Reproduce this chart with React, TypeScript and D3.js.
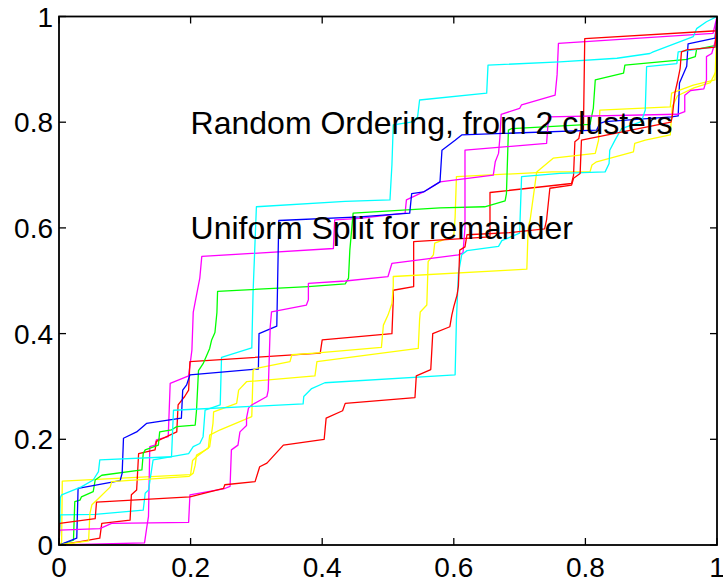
import React from 'react';
import * as d3 from 'd3';

type Pt = [number, number];

// axis ticks
const tickValues = [0, 0.2, 0.4, 0.6, 0.8, 1];
const tickLabels = ['0', '0.2', '0.4', '0.6', '0.8', '1'];

// annotations (x, y in data units)
const noteText = ['Random Ordering, from 2 clusters', 'Uniform Split for remainder'];
const noteX = [0.2, 0.2];
const noteY = [0.8, 0.6];

// curves
const yellowA: Pt[] = [[0,0],[0.004,0.005],[0.005,0.121],[0.2,0.133],[0.203,0.16],[0.209,0.167],[0.229,0.186],[0.234,0.23],[0.235,0.252],[0.27,0.268],[0.273,0.293],[0.285,0.309],[0.389,0.32],[0.392,0.347],[0.546,0.372],[0.548,0.426],[0.549,0.441],[0.559,0.454],[0.561,0.536],[0.569,0.549],[0.571,0.571],[0.6,0.585],[0.602,0.62],[0.604,0.697],[0.749,0.706],[0.807,0.706],[0.81,0.719],[0.817,0.725],[0.873,0.744],[0.875,0.76],[0.891,0.766],[0.929,0.776],[0.932,0.83],[0.94,0.85],[0.965,0.865],[0.99,0.875],[1,0.9],[1,1]];
const magentaUp: Pt[] = [[0,0],[0.13,0.004],[0.133,0.03],[0.136,0.054],[0.137,0.12],[0.138,0.186],[0.146,0.189],[0.148,0.199],[0.166,0.205],[0.169,0.306],[0.197,0.32],[0.202,0.369],[0.204,0.44],[0.207,0.46],[0.212,0.492],[0.214,0.505],[0.217,0.546],[0.417,0.561],[0.419,0.615],[0.457,0.618],[0.526,0.628],[0.528,0.653],[0.554,0.668],[0.579,0.687],[0.66,0.7],[0.663,0.725],[0.668,0.741],[0.67,0.77],[0.672,0.815],[0.7,0.826],[0.703,0.833],[0.754,0.851],[0.757,0.89],[0.759,0.949],[0.994,0.968],[1,1]];
const cyanUp: Pt[] = [[0,0],[0.002,0.057],[0.055,0.058],[0.128,0.066],[0.131,0.098],[0.136,0.104],[0.143,0.161],[0.197,0.173],[0.204,0.186],[0.214,0.192],[0.219,0.205],[0.222,0.255],[0.245,0.265],[0.247,0.355],[0.293,0.373],[0.295,0.48],[0.3,0.64],[0.435,0.65],[0.503,0.653],[0.506,0.72],[0.508,0.795],[0.535,0.8],[0.545,0.81],[0.548,0.842],[0.65,0.855],[0.652,0.908],[0.761,0.914],[0.848,0.921],[0.898,0.93],[0.903,0.933],[0.964,0.962],[0.969,0.977],[0.984,0.99],[1,1]];
const redUp: Pt[] = [[0,0],[0.03,0.006],[0.062,0.013],[0.065,0.041],[0.108,0.047],[0.11,0.095],[0.118,0.104],[0.121,0.173],[0.146,0.18],[0.148,0.196],[0.179,0.214],[0.181,0.265],[0.191,0.281],[0.197,0.293],[0.199,0.347],[0.397,0.363],[0.4,0.388],[0.506,0.4],[0.508,0.464],[0.508,0.482],[0.539,0.489],[0.539,0.574],[0.655,0.583],[0.655,0.667],[0.779,0.684],[0.782,0.7],[0.784,0.763],[0.79,0.769],[0.792,0.782],[0.797,0.785],[0.799,0.958],[1,0.973],[1,1]];
const green: Pt[] = [[0,0],[0.022,0.009],[0.024,0.082],[0.032,0.085],[0.034,0.091],[0.052,0.101],[0.055,0.123],[0.065,0.132],[0.126,0.142],[0.128,0.173],[0.131,0.18],[0.151,0.189],[0.153,0.214],[0.171,0.218],[0.179,0.224],[0.207,0.227],[0.209,0.255],[0.212,0.33],[0.219,0.343],[0.229,0.372],[0.232,0.388],[0.237,0.402],[0.24,0.44],[0.241,0.48],[0.379,0.489],[0.435,0.494],[0.44,0.505],[0.442,0.558],[0.447,0.628],[0.579,0.638],[0.647,0.64],[0.678,0.651],[0.68,0.665],[0.683,0.785],[0.688,0.788],[0.807,0.796],[0.812,0.826],[0.815,0.88],[0.858,0.893],[0.86,0.908],[0.954,0.919],[0.967,0.924],[0.969,0.938],[1,0.946],[1,1]];
const blue: Pt[] = [[0,0],[0.027,0.013],[0.029,0.107],[0.093,0.122],[0.096,0.136],[0.098,0.202],[0.118,0.214],[0.133,0.23],[0.186,0.24],[0.188,0.293],[0.194,0.303],[0.199,0.322],[0.303,0.333],[0.304,0.4],[0.331,0.414],[0.334,0.614],[0.457,0.621],[0.533,0.628],[0.536,0.665],[0.554,0.668],[0.571,0.681],[0.579,0.687],[0.582,0.747],[0.602,0.766],[0.612,0.776],[0.817,0.785],[0.822,0.798],[0.83,0.801],[0.931,0.81],[0.941,0.812],[0.943,0.874],[0.954,0.906],[0.956,0.948],[0.997,0.959],[1,1]];
const yellowB: Pt[] = [[0,0],[0.045,0.008],[0.047,0.06],[0.05,0.076],[0.06,0.088],[0.078,0.11],[0.08,0.12],[0.198,0.13],[0.204,0.136],[0.207,0.151],[0.209,0.17],[0.227,0.183],[0.229,0.208],[0.245,0.218],[0.293,0.243],[0.295,0.331],[0.3,0.334],[0.351,0.347],[0.354,0.36],[0.389,0.363],[0.49,0.374],[0.493,0.416],[0.5,0.435],[0.506,0.457],[0.508,0.49],[0.508,0.508],[0.685,0.52],[0.711,0.522],[0.713,0.6],[0.716,0.615],[0.726,0.706],[0.751,0.732],[0.815,0.741],[0.82,0.766],[0.822,0.823],[0.929,0.829],[0.931,0.855],[0.964,0.87],[0.997,0.88],[1,1]];
const magentaLow: Pt[] = [[0,0],[0.001,0.028],[0.062,0.031],[0.08,0.041],[0.197,0.043],[0.199,0.095],[0.25,0.106],[0.26,0.111],[0.262,0.18],[0.272,0.189],[0.275,0.214],[0.285,0.226],[0.285,0.24],[0.288,0.259],[0.293,0.265],[0.316,0.281],[0.318,0.293],[0.321,0.413],[0.323,0.441],[0.376,0.454],[0.379,0.464],[0.379,0.495],[0.435,0.4995],[0.5,0.508],[0.506,0.533],[0.607,0.549],[0.614,0.553],[0.617,0.6],[0.617,0.747],[0.741,0.76],[0.744,0.81],[0.94,0.815],[0.951,0.82],[0.951,0.851],[0.96,0.86],[0.98,0.863],[0.984,0.88],[0.984,0.924],[0.992,0.93],[1,0.964],[1,1]];
const cyanLow: Pt[] = [[0,0],[0.002,0.09],[0.004,0.095],[0.034,0.11],[0.052,0.123],[0.06,0.139],[0.062,0.161],[0.171,0.167],[0.174,0.255],[0.371,0.267],[0.372,0.281],[0.384,0.296],[0.404,0.307],[0.602,0.322],[0.604,0.426],[0.607,0.514],[0.612,0.549],[0.62,0.557],[0.668,0.565],[0.673,0.576],[0.685,0.582],[0.7,0.59],[0.703,0.697],[0.761,0.703],[0.83,0.706],[0.836,0.722],[0.837,0.747],[0.845,0.766],[0.855,0.788],[0.885,0.801],[0.891,0.823],[0.893,0.905],[0.939,0.911],[0.941,0.933],[1,0.943],[1,1]];
const redLow: Pt[] = [[0,0],[0.001,0.041],[0.055,0.05],[0.057,0.081],[0.199,0.091],[0.25,0.107],[0.252,0.114],[0.298,0.12],[0.305,0.148],[0.316,0.155],[0.341,0.189],[0.403,0.2],[0.406,0.24],[0.431,0.254],[0.435,0.268],[0.541,0.279],[0.543,0.32],[0.565,0.332],[0.568,0.4],[0.594,0.413],[0.597,0.435],[0.6,0.451],[0.605,0.473],[0.607,0.49],[0.609,0.558],[0.617,0.564],[0.62,0.587],[0.685,0.591],[0.738,0.598],[0.741,0.615],[0.746,0.675],[0.779,0.681],[0.782,0.694],[0.792,0.703],[0.794,0.766],[0.93,0.8],[0.932,0.81],[0.936,0.855],[0.94,0.877],[0.944,0.902],[0.946,0.933],[0.954,0.937],[0.997,0.942],[1,1]];

const curves = [yellowA, magentaUp, cyanUp, redUp, green, blue, yellowB, magentaLow, cyanLow, redLow];
const colors = ['#ffff00', '#ff00ff', '#00ffff', '#ff0000', '#00ff00', '#0000ff', '#ffff00', '#ff00ff', '#00ffff', '#ff0000'];

const W = 723;
const H = 579;
const left = 59;
const right = 717;
const top = 16.5;
const bottom = 545;
const tickLen = 7;
const font = '"Liberation Sans", Arial, Helvetica, sans-serif';

export default function App() {
  const x = d3.scaleLinear().domain([0, 1]).range([left, right]);
  const y = d3.scaleLinear().domain([0, 1]).range([bottom, top]);
  const line = d3.line<Pt>().x(d => x(d[0])).y(d => y(d[1]));

  return (
    <svg width={W} height={H} style={{ position: 'absolute', left: 0, top: 0, background: '#fff' }}>
      <rect x={0} y={0} width={W} height={H} fill="#fff" />
      <g>
        {curves.map((c, i) => (
          <path key={i} d={line(c) || ''} fill="none" stroke={colors[i]} strokeWidth={1.3} strokeLinejoin="round" />
        ))}
      </g>

      {/* box + inward ticks on all sides */}
      <rect x={left} y={top} width={right - left} height={bottom - top} fill="none" stroke="#000" strokeWidth={1.8} />
      {tickValues.map((t, i) => (
        <g key={'t' + i} stroke="#000" strokeWidth={1.3}>
          <line x1={x(t)} x2={x(t)} y1={bottom} y2={bottom - tickLen} />
          <line x1={x(t)} x2={x(t)} y1={top} y2={top + tickLen} />
          <line x1={left} x2={left + tickLen} y1={y(t)} y2={y(t)} />
          <line x1={right} x2={right - tickLen} y1={y(t)} y2={y(t)} />
        </g>
      ))}

      <g fontFamily={font} fontSize={28} fill="#000">
        {tickValues.map((t, i) => (
          <text key={'xl' + i} x={x(t)} y={bottom + 32} textAnchor="middle">{tickLabels[i]}</text>
        ))}
        {tickValues.map((t, i) => (
          <text key={'yl' + i} x={left - 6} y={y(t) + 10} textAnchor="end">{tickLabels[i]}</text>
        ))}
      </g>

      <g fontFamily={font} fontSize={32} fill="#000">
        {noteText.map((s, i) => (
          <text key={'n' + i} x={x(noteX[i])} y={y(noteY[i]) + 11.5}>{s}</text>
        ))}
      </g>
    </svg>
  );
}
